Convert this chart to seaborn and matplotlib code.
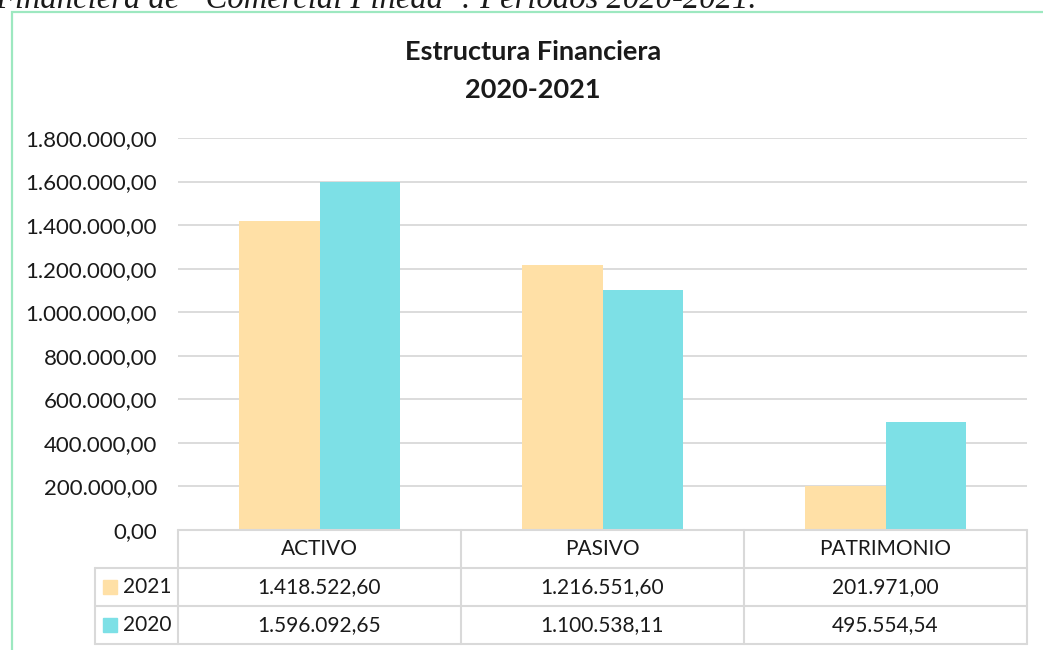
import numpy as np
import pandas as pd
import seaborn as sns
import matplotlib.pyplot as plt
from matplotlib.patches import Rectangle
from matplotlib.lines import Line2D
from matplotlib.transforms import blended_transform_factory

# datos
categorias = ['ACTIVO', 'PASIVO', 'PATRIMONIO']
anios = ['2021', '2020']
valores_2021 = [1418522.60, 1216551.60, 201971.00]
valores_2020 = [1596092.65, 1100538.11, 495554.54]
colores = ['#FFE0A6', '#7DE0E6']
yticks = np.arange(0, 1800001, 200000)
titulo = 'Estructura Financiera'
subtitulo = '2020-2021'
leyenda = 'Financiera de \u201cComercial Pineda\u201d: Períodos 2020-2021.'


def fmt(v):
    # formato español: 1.234.567,89
    s = f'{v:,.2f}'
    return s.replace(',', 'X').replace('.', ',').replace('X', '.')


df = pd.DataFrame({
    'categoria': categorias * 2,
    'anio': [anios[0]] * 3 + [anios[1]] * 3,
    'valor': valores_2021 + valores_2020,
})

sns.set_style('white')
plt.rcParams['font.family'] = ['Lato', 'DejaVu Sans']

W, H = 1043, 650
fig = plt.figure(figsize=(W / 100, H / 100), dpi=100)
ax = fig.add_axes([178 / W, 1 - 530 / H, (1027 - 178) / W, (530 - 138) / H])

sns.barplot(data=df, x='categoria', y='valor', hue='anio', hue_order=anios,
            palette=colores, width=0.57, saturation=1, linewidth=0,
            legend=False, ax=ax)

ax.set_xlim(-0.5, 2.5)
ax.set_ylim(0, 1800000)
ax.set_yticks(yticks)
ax.set_yticklabels([fmt(v) for v in yticks], fontsize=16, color='#1a1a1a')
ax.tick_params(axis='y', length=0, pad=15)
ax.set_xticks([])
ax.set_xlabel('')
ax.set_ylabel('')
ax.yaxis.grid(True, color='#D9D9D9', lw=1.3)
ax.set_axisbelow(True)
for s in ax.spines.values():
    s.set_visible(False)

# tabla de datos bajo el grafico
tr = blended_transform_factory(ax.transData, ax.transAxes)
rh = 38 / 392
x_lab = -0.5 - 83 / 283
gris = '#D9D9D9'


def linea(xs, ys):
    ax.add_line(Line2D(xs, ys, transform=tr, color=gris, lw=1.5, clip_on=False))


linea([-0.5, 2.5], [0, 0])
for k in (1, 2, 3):
    linea([x_lab, 2.5], [-k * rh, -k * rh])
linea([x_lab, x_lab], [-rh, -3 * rh])
for xe in (-0.5, 0.5, 1.5, 2.5):
    linea([xe, xe], [0, -3 * rh])

for i, c in enumerate(categorias):
    ax.text(i, -0.5 * rh, c, transform=tr, ha='center', va='center', fontsize=15, color='#1a1a1a')

for j, (a, vals, col) in enumerate(zip(anios, [valores_2021, valores_2020], colores)):
    yc = -(j + 1.5) * rh
    for i, v in enumerate(vals):
        ax.text(i, yc, fmt(v), transform=tr, ha='center', va='center', fontsize=15, color='#1a1a1a')
    ax.add_patch(Rectangle((x_lab + 8 / 283, yc - 7 / 392), 14 / 283, 14 / 392,
                           transform=tr, color=col, clip_on=False))
    ax.text(x_lab + 28 / 283, yc, a, transform=tr, ha='left', va='center', fontsize=15, color='#1a1a1a')

fig.text(533 / W, 1 - 52 / H, titulo, ha='center', va='center', fontsize=19.5, fontweight='bold', color='#1a1a1a')
fig.text(533 / W, 1 - 90 / H, subtitulo, ha='center', va='center', fontsize=19.5, fontweight='bold', color='#1a1a1a')

# marco verde y leyenda cortada arriba (como en la captura original)
fig.add_artist(Rectangle((12 / W, -0.1), 1.2, 1 - 12 / H + 0.1, transform=fig.transFigure,
                         fill=False, ec='#9DE8C0', lw=1.6))
fig.text(757 / W, 1 - 8 / H, leyenda, ha='right', va='baseline', fontsize=23.5,
         family='Liberation Serif', style='italic', color='#1a1a1a')

fig.savefig('out.png', dpi=100)
